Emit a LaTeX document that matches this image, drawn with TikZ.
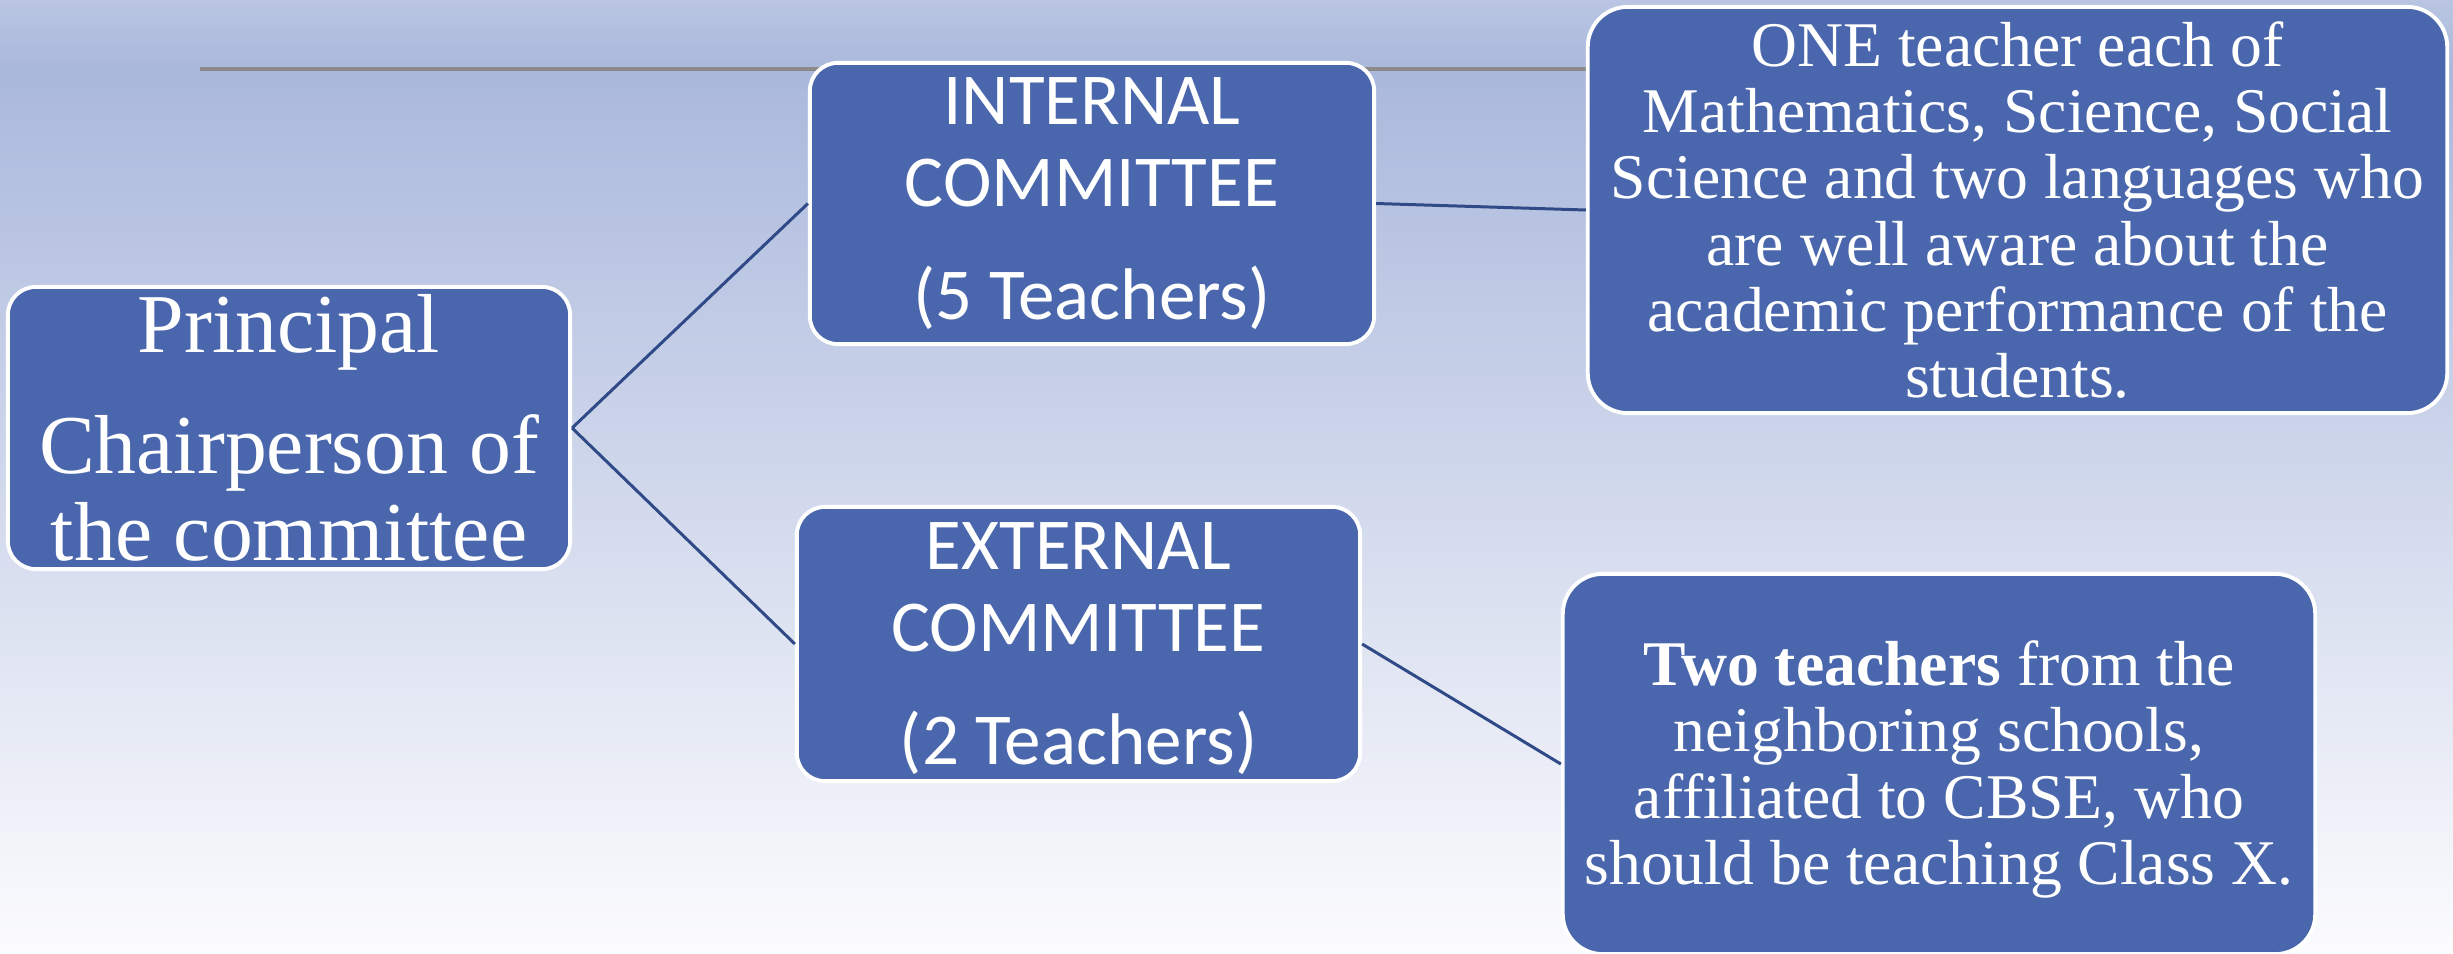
\documentclass[tikz,border=0pt]{standalone}
\usepackage{fontspec}
\newfontfamily\tnr{Liberation Serif}
\newfontfamily\calfont{Carlito}
\usetikzlibrary{backgrounds}
\definecolor{boxblue}{HTML}{4A66AC}
\definecolor{linkblue}{HTML}{2F4A86}
\definecolor{bgtop}{HTML}{B9C5E2}
\definecolor{bgband}{HTML}{AAB8DC}
\definecolor{bgbot}{HTML}{FCFCFE}
\definecolor{rulegray}{HTML}{8A8A8A}
\begin{document}
\begin{tikzpicture}[x=0.01cm,y=-0.01cm,
  box/.style={draw=white, line width=1.1pt, fill=boxblue, text=white,
    align=center, inner sep=0pt, rounded corners=#1},
  box/.default=0.28cm,
  link/.style={draw=linkblue, line width=0.85pt},
  serifA/.style={font=\tnr\fontsize{23.8}{24.8}\selectfont},
  sansA/.style={font=\calfont\fontsize{20.8}{23.3}\selectfont},
  serifB/.style={font=\tnr\fontsize{18.1}{18.85}\selectfont},
]
\useasboundingbox (0,0) rectangle (2453,954);

\node[box=0.28cm, serifA, minimum width=5.62cm, minimum height=2.82cm] (P) at (289,428)
  {Principal\\[9.7pt]Chairperson of\\the committee};

\node[box=0.28cm, sansA, minimum width=5.64cm, minimum height=2.81cm] (I) at (1092,203.5)
  {INTERNAL\\COMMITTEE\\[8.8pt](5 Teachers)};

\node[box=0.28cm, sansA, minimum width=5.63cm, minimum height=2.74cm] (E) at (1078.5,644)
  {\rule{0pt}{16pt}EXTERNAL\\COMMITTEE\\[8.8pt](2 Teachers)};

\node[box=0.4cm, serifB, minimum width=8.59cm, minimum height=4.06cm] (R1) at (2017.5,210)
  {ONE teacher each of\\Mathematics, Science, Social\\Science and two languages who\\are well aware about the\\academic performance of the\\students.};

\node[box=0.4cm, serifB, minimum width=7.52cm, minimum height=3.80cm] (R2) at (1939,764)
  {\rule{0pt}{15.8pt}\textbf{Two teachers} from the\\neighboring schools,\\affiliated to CBSE, who\\should be teaching Class X.};

\draw[link] (P.east) -- (I.west);
\draw[link] (P.east) -- (E.west);
\draw[link] (I.east) -- (R1.west);
\draw[link] (E.east) -- (R2.west);

\coordinate (topL) at (200,69);
\begin{scope}[on background layer]
  \shade[top color=bgtop, bottom color=bgband] (0,0) rectangle (2453,70);
  \shade[top color=bgband, bottom color=bgbot] (0,70) rectangle (2453,954);
  \draw[rulegray, line width=0.9pt] (topL) -- (topL -| R1.west);
\end{scope}
\end{tikzpicture}
\end{document}
